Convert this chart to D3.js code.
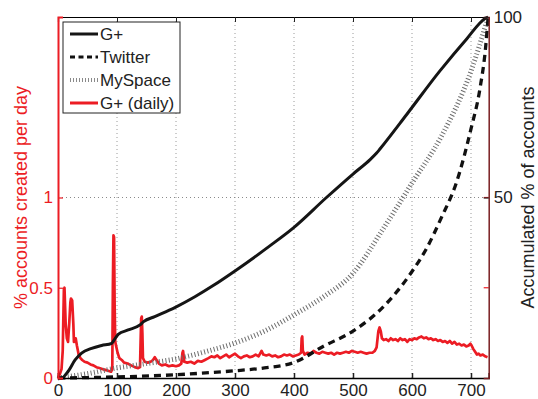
<!DOCTYPE html>
<html>
<head>
<meta charset="utf-8">
<script src="https://cdn.jsdelivr.net/npm/d3@7"></script>
<style>
  body { margin: 0; background: #fff; }
  svg { font-family: "Liberation Sans", Arial, sans-serif; }
</style>
</head>
<body>
<div id="chart"></div>
<script>
// Accumulated % of accounts (right axis)
const gplusDays = [0, 6, 17, 29, 40, 57, 74, 91, 95, 102, 119, 139, 145, 164, 198, 232, 263, 303, 359, 399, 455, 500, 529, 540, 546, 591, 647, 693, 724, 729];
const gplusPct = [0, 0, 1.8, 5, 6.9, 8.2, 9, 9.6, 10.5, 12.1, 13.3, 14.7, 15.6, 17, 19.5, 22.5, 25.6, 30, 36.6, 41.6, 50, 56.5, 60.5, 62.3, 63.5, 73, 85, 94, 99.6, 100];

const twitterDays = [0, 100, 200, 250, 300, 350, 400, 450, 500, 550, 600, 625, 650, 675, 700, 715, 725, 729];
const twitterPct = [0, 0.3, 0.9, 1.4, 2, 2.8, 4.3, 8.8, 13, 19.5, 29.5, 36, 44.5, 54, 69, 80, 92, 100];

const myspaceDays = [0, 50, 100, 150, 200, 250, 300, 350, 400, 450, 500, 550, 600, 650, 700, 729];
const myspacePct = [0, 1.2, 2.8, 4, 5.3, 7.3, 9.7, 13, 17.5, 22.5, 29, 41, 54, 67, 85, 100];

// % accounts created per day (left axis)
const dailyDays = [0, 3, 6, 8, 10, 11, 13, 15, 17, 19, 21, 22, 24, 26, 27, 29, 30, 32, 35, 38, 41, 45, 50, 55, 60, 65, 70, 75, 80, 85, 90, 92, 93, 94, 95, 96, 97, 99, 101, 104, 108, 112, 118, 124, 130, 136, 139, 140, 141, 142, 143, 144, 147, 152, 157, 161, 164, 167, 171, 176, 182, 188, 194, 200, 205, 209, 211, 212, 214, 219, 225, 231, 237, 243, 249, 255, 260, 265, 270, 275, 280, 285, 290, 295, 300, 305, 310, 315, 320, 325, 330, 335, 340, 345, 348, 353, 358, 363, 368, 373, 378, 383, 388, 393, 398, 403, 408, 412, 413, 414, 415, 418, 423, 428, 433, 438, 443, 448, 453, 458, 463, 468, 473, 478, 483, 488, 493, 498, 503, 508, 513, 518, 523, 528, 533, 537, 540, 543, 545, 547, 549, 552, 556, 560, 564, 568, 572, 576, 580, 584, 588, 592, 596, 600, 604, 608, 612, 616, 620, 624, 628, 632, 636, 640, 644, 648, 652, 656, 660, 664, 668, 672, 676, 680, 684, 688, 692, 696, 699, 701, 704, 707, 710, 713, 716, 720, 724, 728];
const dailyPct = [0, 0.02, 0.05, 0.15, 0.49, 0.5, 0.3, 0.22, 0.2, 0.3, 0.42, 0.44, 0.43, 0.3, 0.2, 0.21, 0.22, 0.18, 0.13, 0.11, 0.1, 0.09, 0.085, 0.075, 0.07, 0.06, 0.055, 0.05, 0.045, 0.04, 0.035, 0.05, 0.5, 0.79, 0.78, 0.4, 0.2, 0.17, 0.14, 0.11, 0.1, 0.085, 0.08, 0.07, 0.06, 0.055, 0.06, 0.2, 0.33, 0.34, 0.25, 0.11, 0.09, 0.085, 0.09, 0.1, 0.115, 0.1, 0.08, 0.07, 0.075, 0.065, 0.07, 0.065, 0.07, 0.08, 0.14, 0.15, 0.09, 0.085, 0.09, 0.08, 0.095, 0.09, 0.1, 0.11, 0.12, 0.115, 0.125, 0.11, 0.12, 0.13, 0.115, 0.125, 0.135, 0.12, 0.11, 0.12, 0.125, 0.115, 0.12, 0.13, 0.12, 0.15, 0.13, 0.125, 0.13, 0.12, 0.125, 0.115, 0.12, 0.13, 0.125, 0.13, 0.12, 0.125, 0.13, 0.14, 0.22, 0.23, 0.15, 0.13, 0.14, 0.135, 0.15, 0.14, 0.135, 0.145, 0.14, 0.135, 0.14, 0.13, 0.14, 0.135, 0.14, 0.145, 0.14, 0.15, 0.145, 0.14, 0.145, 0.14, 0.135, 0.14, 0.14, 0.15, 0.17, 0.26, 0.28, 0.26, 0.22, 0.21, 0.215, 0.205, 0.22, 0.21, 0.215, 0.205, 0.22, 0.21, 0.215, 0.2, 0.215, 0.21, 0.22, 0.215, 0.225, 0.23, 0.22, 0.225, 0.215, 0.22, 0.21, 0.215, 0.205, 0.21, 0.2, 0.205, 0.195, 0.205, 0.19, 0.2, 0.185, 0.19, 0.18, 0.185, 0.175, 0.18, 0.19, 0.18, 0.16, 0.145, 0.13, 0.135, 0.125, 0.13, 0.12, 0.115];

const xTicks = [0, 100, 200, 300, 400, 500, 600, 700];
const leftTicks = [0, 0.5, 1];
const rightTicks = [50, 100];

const legendNames = ["G+", "Twitter", "MySpace", "G+ (daily)"];

const width = 538, height = 399;
const mLeft = 58, mRight = 488.7, mTop = 17, mBottom = 378;
const red = "#ec1c24";

const svg = d3.select("#chart").append("svg")
    .attr("width", width)
    .attr("height", height);

const x = d3.scaleLinear().domain([0, 730]).range([mLeft, mRight]);
const yL = d3.scaleLinear().domain([0, 2]).range([mBottom, mTop]);
const yR = d3.scaleLinear().domain([0, 100]).range([mBottom, mTop]);

// grid
svg.append("g")
    .selectAll("line")
    .data(xTicks.filter(d => d > 0))
    .enter()
    .append("line")
    .attr("x1", d => x(d)).attr("x2", d => x(d))
    .attr("y1", mTop).attr("y2", mBottom)
    .attr("stroke", "#9a9a9a")
    .attr("stroke-width", 1)
    .attr("stroke-dasharray", "1,3");

svg.append("line")
    .attr("x1", mLeft).attr("x2", mRight)
    .attr("y1", yL(1)).attr("y2", yL(1))
    .attr("stroke", "#8a8a8a")
    .attr("stroke-width", 1)
    .attr("stroke-dasharray", "1,3");

// daily line (left axis)
const dailyLine = d3.line()
    .x((d, i) => x(dailyDays[i]))
    .y(d => yL(d));

svg.append("path")
    .datum(dailyPct)
    .attr("fill", "none")
    .attr("stroke", red)
    .attr("stroke-width", 2.7)
    .attr("stroke-linejoin", "round")
    .attr("d", dailyLine);

// cumulative lines (right axis)
function cumLine(days) {
    return d3.line()
        .x((d, i) => x(days[i]))
        .y(d => yR(d))
        .curve(d3.curveMonotoneX);
}

svg.append("path")
    .datum(myspacePct)
    .attr("fill", "none")
    .attr("stroke", "#6e6e6e")
    .attr("stroke-width", 5)
    .attr("stroke-dasharray", "1,2.3")
    .attr("d", cumLine(myspaceDays));

svg.append("path")
    .datum(twitterPct)
    .attr("fill", "none")
    .attr("stroke", "#111")
    .attr("stroke-width", 3.3)
    .attr("stroke-dasharray", "7,5")
    .attr("d", cumLine(twitterDays));

svg.append("path")
    .datum(gplusPct)
    .attr("fill", "none")
    .attr("stroke", "#151515")
    .attr("stroke-width", 3)
    .attr("d", cumLine(gplusDays));

// axes
const xAxis = svg.append("g")
    .attr("transform", `translate(0,${mBottom})`)
    .call(d3.axisBottom(x).tickValues(xTicks).tickSize(-5).tickPadding(6).tickFormat(d3.format("d")));
xAxis.select(".domain").attr("stroke", "#000").attr("stroke-width", 1.5);
xAxis.selectAll(".tick line").attr("stroke", "#222").attr("stroke-width", 1.5);
xAxis.selectAll("text").attr("font-size", 17).attr("fill", "#222");

const xTop = svg.append("g")
    .attr("transform", `translate(0,${mTop})`)
    .call(d3.axisTop(x).tickValues(xTicks).tickSize(-5).tickFormat(""));
xTop.select(".domain").attr("stroke", "#000").attr("stroke-width", 1.2);
xTop.selectAll(".tick line").attr("stroke", "#222");

const yLeft = svg.append("g")
    .attr("transform", `translate(${mLeft},0)`)
    .call(d3.axisLeft(yL).tickValues(leftTicks).tickSize(-5).tickPadding(5).tickFormat(d3.format("")));
yLeft.select(".domain").attr("stroke", red).attr("stroke-width", 2);
yLeft.selectAll(".tick line").attr("stroke", red).attr("stroke-width", 1.2);
yLeft.selectAll("text").attr("font-size", 17).attr("fill", red);

// left ticks mirrored on the right side
svg.append("g")
    .selectAll("line")
    .data(leftTicks.filter(d => d > 0))
    .enter()
    .append("line")
    .attr("x1", mRight - 5).attr("x2", mRight)
    .attr("y1", d => yL(d)).attr("y2", d => yL(d))
    .attr("stroke", red)
    .attr("stroke-width", 1.2);

const yRight = svg.append("g")
    .attr("transform", `translate(${mRight},0)`)
    .call(d3.axisRight(yR).tickValues(rightTicks).tickSize(-5).tickPadding(5).tickFormat(d3.format("d")));
yRight.select(".domain").attr("stroke", "#7a1f22").attr("stroke-width", 1.5);
yRight.selectAll(".tick line").attr("stroke", "#222").attr("stroke-width", 1.2);
yRight.selectAll("text").attr("font-size", 17).attr("fill", "#222");

// axis titles
svg.append("text")
    .attr("transform", `translate(27,${(mTop + mBottom) / 2}) rotate(-90)`)
    .attr("text-anchor", "middle")
    .attr("font-size", 18)
    .attr("fill", red)
    .text("% accounts created per day");

svg.append("text")
    .attr("transform", `translate(534,${(mTop + mBottom) / 2}) rotate(-90)`)
    .attr("text-anchor", "middle")
    .attr("font-size", 18)
    .attr("fill", "#222")
    .text("Accumulated % of accounts");

// legend
const legend = svg.append("g").attr("transform", "translate(63,22)");
legend.append("rect")
    .attr("width", 117).attr("height", 91)
    .attr("fill", "#fff")
    .attr("stroke", "#222")
    .attr("stroke-width", 1);

const legendStyles = [
    { stroke: "#151515", w: 3, dash: null },
    { stroke: "#111", w: 3, dash: "5,3.5" },
    { stroke: "#8a8a8a", w: 4, dash: "1,2" },
    { stroke: red, w: 3, dash: null }
];
const legendY = [12, 35, 58, 81];

legendNames.forEach((name, i) => {
    const s = legendStyles[i];
    legend.append("line")
        .attr("x1", 7).attr("x2", 35)
        .attr("y1", legendY[i]).attr("y2", legendY[i])
        .attr("stroke", s.stroke)
        .attr("stroke-width", s.w)
        .attr("stroke-dasharray", s.dash);
    legend.append("text")
        .attr("x", 37).attr("y", legendY[i])
        .attr("dy", "0.35em")
        .attr("font-size", 17)
        .attr("fill", "#222")
        .text(name);
});
</script>
</body>
</html>
